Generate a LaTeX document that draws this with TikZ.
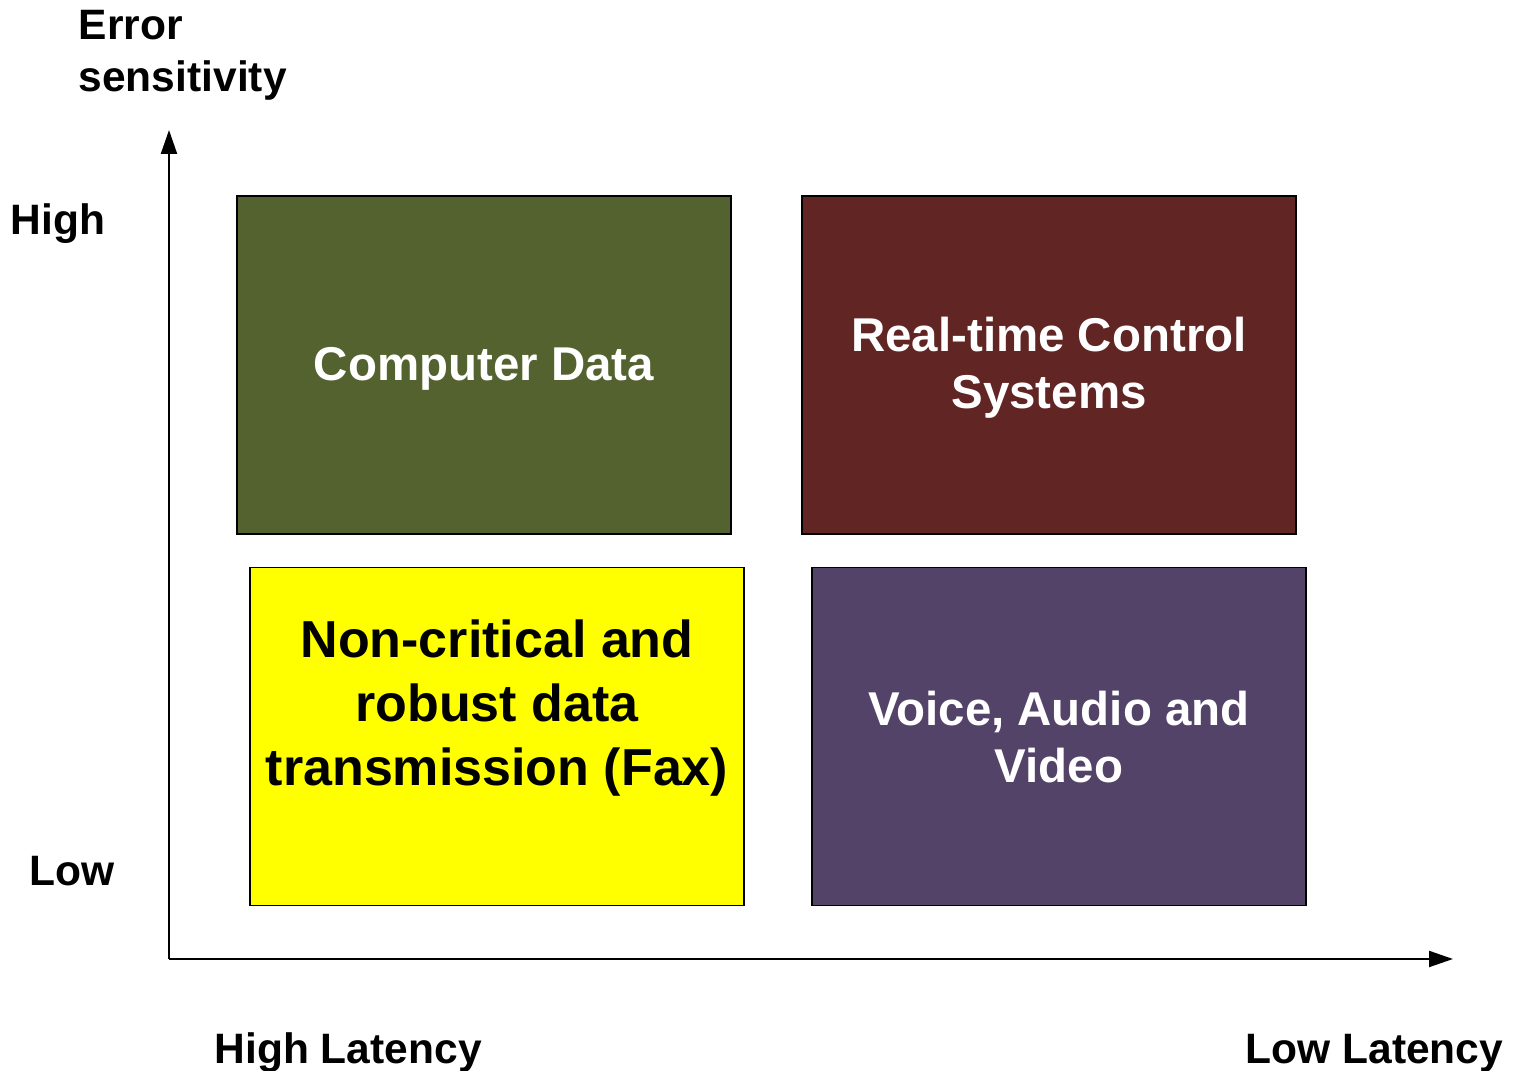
\documentclass[tikz,border=0pt]{standalone}
\usepackage{fontspec}
\setmainfont{Liberation Sans}
\usetikzlibrary{arrows.meta}

\definecolor{datagreen}{RGB}{83,98,46}
\definecolor{ctrlred}{RGB}{97,38,36}
\definecolor{voicepurple}{RGB}{83,67,104}
\definecolor{faxyellow}{RGB}{255,255,0}

\begin{document}
\begin{tikzpicture}[
  quad/.style={draw=black, line width=.5pt, minimum width=4.94cm, minimum height=3.38cm, inner sep=0pt},
  quadtext/.style={align=center, font=\bfseries\fontsize{13.5}{16.2}\selectfont, text=white},
  axislabel/.style={font=\bfseries\fontsize{12.1}{14.8}\selectfont, inner sep=0pt},
  axis/.style={line width=.6pt, -{Triangle[length=.24cm, width=.16cm]}}]
\useasboundingbox (0,0) rectangle (15.32,10.71);
% axes
\coordinate (origin) at (1.69,1.12);
\coordinate (ytip) at (1.69,9.41);
\coordinate (xtip) at (14.53,1.12);
\draw[axis] (origin) -- (ytip);
\draw[axis] (origin) -- (xtip);
% quadrants
\node[quad, fill=datagreen] (data) at (4.84,7.06) {};
\node[quadtext] (datatext) at ([yshift=-.04cm]data.center) {Computer Data};
\node[quad, fill=ctrlred] (ctrl) at (10.49,7.06) {};
\node[quadtext] (ctrltext) at ([yshift=-.03cm]ctrl.center) {Real-time Control\\Systems};
\node[quad, fill=faxyellow] (fax) at (4.97,3.345) {};
\node[align=center, font=\bfseries\fontsize{14.8}{18.2}\selectfont] (faxtext) at ([yshift=.28cm]fax.center) {Non-critical and\\robust data\\transmission (Fax)};
\node[quad, fill=voicepurple] (voice) at (10.59,3.345) {};
\node[quadtext] (voicetext) at ([yshift=-.01cm]voice.center) {Voice, Audio and\\Video};
% labels
\node[axislabel, anchor=west, align=left] (ylab) at (0.78,10.16) {Error\\sensitivity};
\node[axislabel, anchor=base west] (yhigh) at (0.10,8.36) {High};
\node[axislabel, anchor=base west] (ylow) at (0.29,1.85) {Low};
\node[axislabel, anchor=base west] (xhigh) at (2.14,0.07) {High Latency};
\node[axislabel, anchor=base west] (xlow) at (12.45,0.07) {Low Latency};
\end{tikzpicture}
\end{document}
